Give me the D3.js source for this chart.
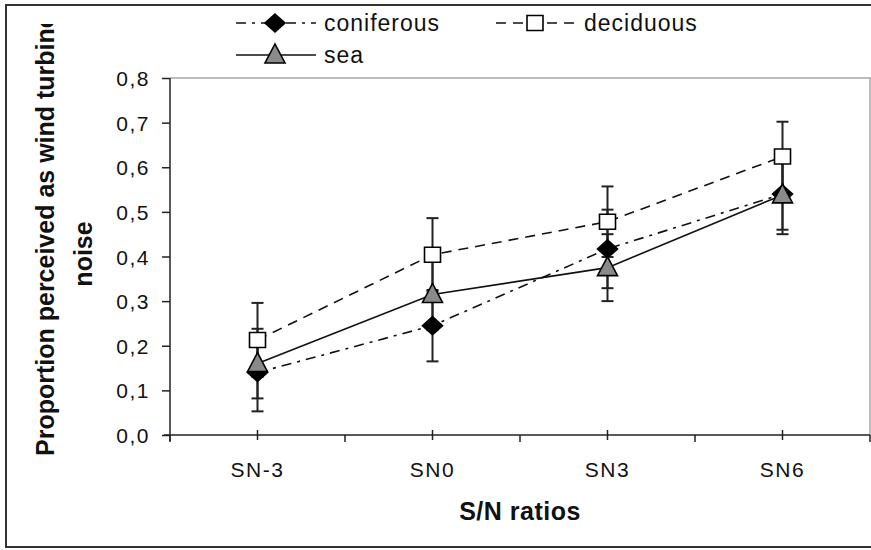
<!DOCTYPE html>
<html>
<head>
<meta charset="utf-8">
<script src="https://cdn.jsdelivr.net/npm/d3@7"></script>
<style>
  body { margin: 0; background: #fff; }
  text { font-family: "Liberation Sans", Arial, sans-serif; fill: #111; }
</style>
</head>
<body>
<div id="chart"></div>
<script>
// categories and series values (proportion, with error half-widths)
const categories = ['SN-3', 'SN0', 'SN3', 'SN6']
const coniferous = [0.14, 0.245, 0.417, 0.54]
const coniferousErr = [0.087, 0.08, 0.088, 0.08]
const deciduous = [0.213, 0.404, 0.478, 0.624]
const deciduousErr = [0.083, 0.082, 0.079, 0.078]
const sea = [0.16, 0.315, 0.375, 0.538]
const seaErr = [0.078, 0.08, 0.075, 0.088]
const yTicks = [0, 0.1, 0.2, 0.3, 0.4, 0.5, 0.6, 0.7, 0.8]

const series = [
  { name: 'coniferous', values: coniferous, err: coniferousErr, dash: '10,6,3,6', marker: 'diamond' },
  { name: 'deciduous', values: deciduous, err: deciduousErr, dash: '10,7', marker: 'square' },
  { name: 'sea', values: sea, err: seaErr, dash: null, marker: 'triangle' }
]

const W = 871, H = 550
const margin = { top: 78, right: 1, bottom: 115, left: 170 }
const width = W - margin.left - margin.right
const height = H - margin.top - margin.bottom

const svg = d3.select('#chart').append('svg')
  .attr('width', W)
  .attr('height', H)

svg.append('rect').attr('width', W).attr('height', H).attr('fill', '#fff')

// chart border (right side runs off the page)
svg.append('rect')
  .attr('x', 6).attr('y', 5)
  .attr('width', W + 10).attr('height', 542)
  .attr('fill', 'none').attr('stroke', '#333').attr('stroke-width', 2)

const g = svg.append('g')
  .attr('transform', `translate(${margin.left},${margin.top})`)

const x = d3.scaleBand().domain(categories).range([0, width])
const y = d3.scaleLinear().domain([0, 0.8]).range([height, 0])
const cx = d => x(d) + x.bandwidth() / 2

// plot area outline
g.append('path')
  .attr('d', `M0,0H${width}V${height}`)
  .attr('fill', 'none').attr('stroke', '#a8a8a8').attr('stroke-width', 1.5)

// y axis
const yAxis = g.append('g')
  .call(d3.axisLeft(y).tickValues(yTicks).tickSize(8).tickPadding(12)
    .tickFormat(d => d3.format('.1f')(d).replace('.', ',')))
yAxis.select('.domain').remove()
yAxis.selectAll('line').attr('stroke', '#222').attr('stroke-width', 1.5)
yAxis.selectAll('text')
  .style('font-size', '21px').style('letter-spacing', '1.5px')
  .attr('dy', '0.36em').attr('fill', '#222')
g.append('line')
  .attr('x1', 0).attr('x2', 0).attr('y1', 0).attr('y2', height + 6)
  .attr('stroke', '#222').attr('stroke-width', 1.5)

// x axis: outside ticks on category edges, crossing ticks at centres
const xAxis = g.append('g').attr('transform', `translate(0,${height})`)
xAxis.append('line')
  .attr('x1', -6).attr('x2', width).attr('stroke', '#222').attr('stroke-width', 1.5)
xAxis.selectAll('line.edge')
  .data(d3.range(categories.length + 1))
  .join('line')
  .attr('class', 'edge')
  .attr('x1', i => i * x.step()).attr('x2', i => i * x.step())
  .attr('y1', 0).attr('y2', 7)
  .attr('stroke', '#222').attr('stroke-width', 1.5)
xAxis.selectAll('line.mid')
  .data(categories)
  .join('line')
  .attr('class', 'mid')
  .attr('x1', cx).attr('x2', cx)
  .attr('y1', -5).attr('y2', 5)
  .attr('stroke', '#222').attr('stroke-width', 1.5)
xAxis.selectAll('text.cat')
  .data(categories)
  .join('text')
  .attr('class', 'cat')
  .attr('x', cx).attr('y', 42)
  .attr('text-anchor', 'middle')
  .style('font-size', '21px').style('letter-spacing', '1.5px')
  .attr('fill', '#222')
  .text(d => d)

// axis titles
g.append('text')
  .attr('x', width / 2).attr('y', height + 85)
  .attr('text-anchor', 'middle')
  .style('font-size', '25px').style('font-weight', 'bold').style('letter-spacing', '0.5px')
  .text('S/N ratios')

svg.append('clipPath').attr('id', 'yclip')
  .append('rect').attr('x', 0).attr('y', 24).attr('width', 160).attr('height', 520)

const yTitle = svg.append('g').attr('clip-path', 'url(#yclip)')
  .append('text')
  .attr('transform', 'rotate(-90)')
  .style('font-size', '25px').style('font-weight', 'bold')
yTitle.append('tspan')
  .attr('x', -456).attr('y', 54)
  .text('Proportion perceived as wind turbine')
yTitle.append('tspan')
  .attr('x', -254).attr('y', 92)
  .attr('text-anchor', 'middle')
  .text('noise')

// marker shapes
const markerPath = {
  diamond: 'M0,-9L10,0L0,9L-10,0Z',
  square: 'M-8,-7.5H8V7.5H-8Z',
  triangle: 'M0,-11L10,8H-10Z'
}
const markerStyle = {
  diamond: { fill: '#000', stroke: '#000' },
  square: { fill: '#fff', stroke: '#000' },
  triangle: { fill: '#8a8a8a', stroke: '#000' }
}
function drawMarker (sel, type) {
  sel.append('path')
    .attr('d', markerPath[type])
    .attr('fill', markerStyle[type].fill)
    .attr('stroke', markerStyle[type].stroke)
    .attr('stroke-width', 1.6)
}

// error bars
series.forEach(s => {
  const eb = g.append('g').attr('class', 'err')
  s.values.forEach((v, i) => {
    const px = cx(categories[i])
    const lo = y(v - s.err[i]), hi = y(v + s.err[i])
    eb.append('line').attr('x1', px).attr('x2', px).attr('y1', lo).attr('y2', hi)
    eb.append('line').attr('x1', px - 6).attr('x2', px + 6).attr('y1', lo).attr('y2', lo)
    eb.append('line').attr('x1', px - 6).attr('x2', px + 6).attr('y1', hi).attr('y2', hi)
  })
  eb.selectAll('line').attr('stroke', '#222').attr('stroke-width', 2)
})

// series lines
const line = d3.line().x((d, i) => cx(categories[i])).y(d => y(d))
series.forEach(s => {
  g.append('path')
    .datum(s.values)
    .attr('d', line)
    .attr('fill', 'none')
    .attr('stroke', '#111')
    .attr('stroke-width', 1.6)
    .attr('stroke-dasharray', s.dash)
})

// markers
series.forEach(s => {
  s.values.forEach((v, i) => {
    const m = g.append('g').attr('transform', `translate(${cx(categories[i])},${y(v)})`)
    drawMarker(m, s.marker)
  })
})

// legend
const legendItems = [
  { s: series[0], x: 236, y: 23 },
  { s: series[1], x: 496, y: 23 },
  { s: series[2], x: 236, y: 55 }
]
legendItems.forEach(d => {
  const lg = svg.append('g').attr('transform', `translate(${d.x},${d.y})`)
  lg.append('line')
    .attr('x1', 0).attr('x2', 80)
    .attr('stroke', '#111').attr('stroke-width', 1.6)
    .attr('stroke-dasharray', d.s.dash)
  const m = lg.append('g').attr('transform', 'translate(39,0)')
  drawMarker(m, d.s.marker)
  lg.append('text')
    .attr('x', 88).attr('dy', '0.35em')
    .style('font-size', '23px').style('letter-spacing', '1px')
    .attr('fill', '#222')
    .text(d.s.name)
})
</script>
</body>
</html>
